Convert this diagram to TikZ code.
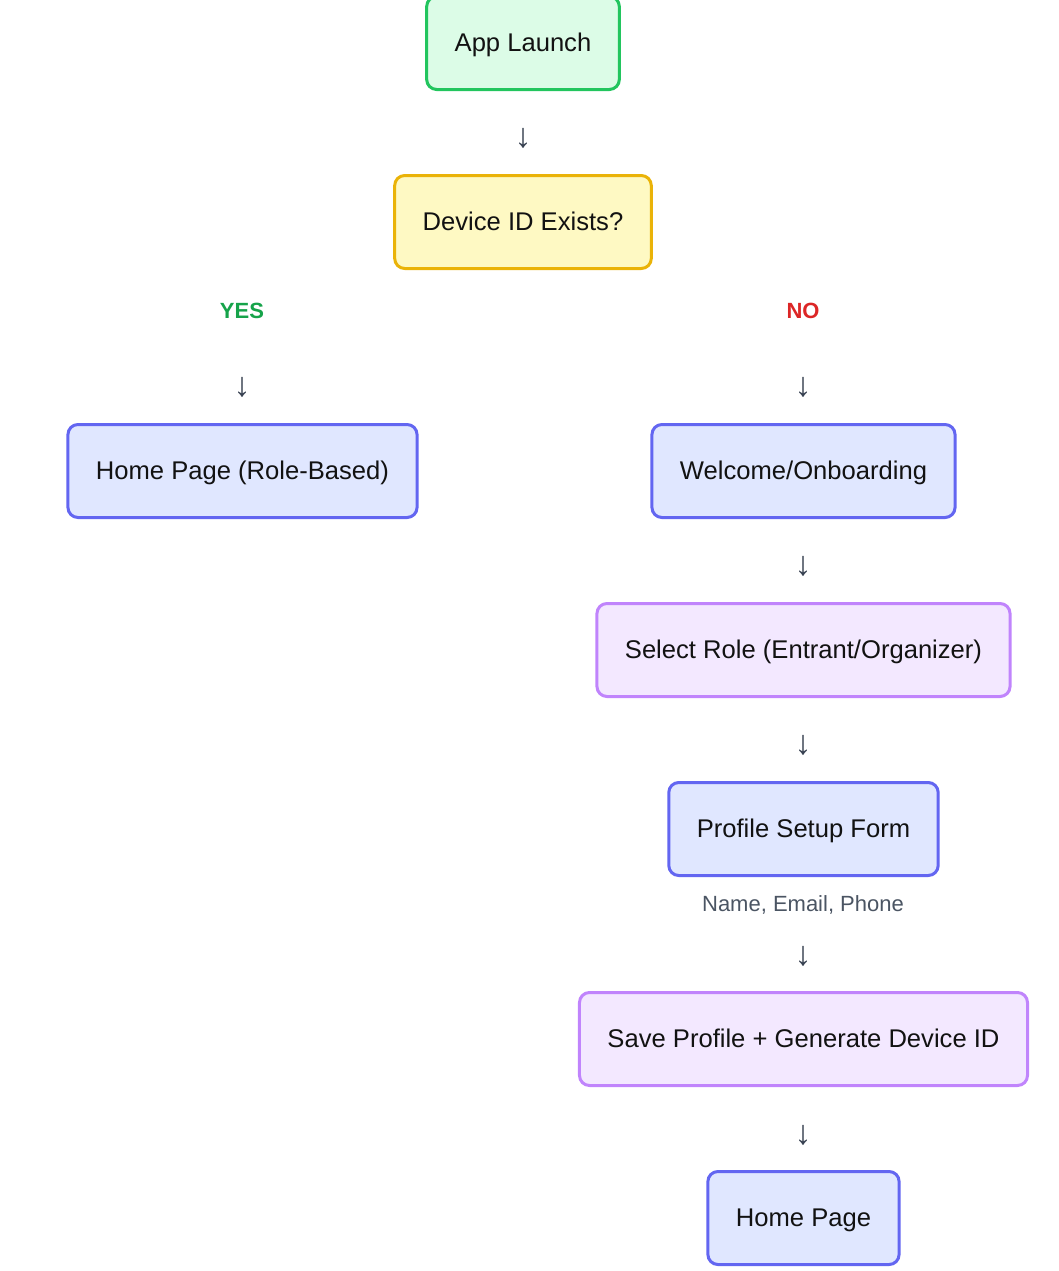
\documentclass[tikz,border=0pt]{standalone}
\usepackage{fontspec}
\setmainfont{Liberation Sans}
\usetikzlibrary{positioning}

\definecolor{launchline}{HTML}{22C55E}
\definecolor{launchfill}{HTML}{DCFCE7}
\definecolor{askline}{HTML}{EAB308}
\definecolor{askfill}{HTML}{FEF9C3}
\definecolor{pageline}{HTML}{6366F1}
\definecolor{pagefill}{HTML}{E0E7FF}
\definecolor{roleline}{HTML}{C084FC}
\definecolor{rolefill}{HTML}{F3E8FF}
\definecolor{arrowgrey}{HTML}{374151}
\definecolor{notegrey}{HTML}{4B5563}
\definecolor{yesgreen}{HTML}{16A34A}
\definecolor{nored}{HTML}{DC2626}

\tikzset{
    flowbox/.style={rounded corners=5pt, line width=1.5pt, minimum height=46.5pt,
        inner xsep=14pt, text height=9.8pt, text depth=1.6pt,
        text=black!93, font=\fontsize{12.8}{15}\selectfont},
    launchbox/.style={flowbox, draw=launchline, fill=launchfill},
    askbox/.style={flowbox, draw=askline, fill=askfill},
    pagebox/.style={flowbox, draw=pageline, fill=pagefill},
    rolebox/.style={flowbox, draw=roleline, fill=rolefill},
    downarrow/.style={text=arrowgrey, font=\fontsize{17}{19}\selectfont, inner sep=0pt},
    branchlabel/.style={font=\fontsize{11}{13}\selectfont\bfseries, inner sep=0pt},
    notetext/.style={text=notegrey, font=\fontsize{11}{13}\selectfont, inner sep=0pt}
}

\begin{document}
\begin{tikzpicture}[x=0.5pt, y=-0.5pt]
    \useasboundingbox (0,0) rectangle (1059,1271);

    % top of the flow
    \node[launchbox] (launch) at (523,43) {App Launch};
    \node[downarrow] (arrA) at (523,138) {↓};
    \node[askbox] (devid) at (523,222) {Device ID Exists?};

    % yes branch
    \node[branchlabel, text=yesgreen] (yes) at (242,311) {YES};
    \node[downarrow] (arrYes) at (242,387) {↓};
    \node[pagebox] (homerole) at (242.5,471) {Home Page (Role-Based)};

    % no branch
    \node[branchlabel, text=nored] (no) at (803,311) {NO};
    \node[downarrow] (arrNo) at (803,387) {↓};
    \node[pagebox] (welcome) at (803.5,471) {Welcome/Onboarding};
    \node[downarrow] (arrB) at (803,566) {↓};
    \node[rolebox] (role) at (803.5,650) {Select Role (Entrant/Organizer)};
    \node[downarrow] (arrC) at (803,745) {↓};
    \node[pagebox] (profile) at (803.5,829) {Profile Setup Form};
    \node[notetext] (fields) at (803,905) {Name, Email, Phone};
    \node[downarrow] (arrD) at (803,956) {↓};
    \node[rolebox] (save) at (803.5,1039) {Save Profile + Generate Device ID};
    \node[downarrow] (arrE) at (803,1135) {↓};
    \node[pagebox] (home) at (803.5,1218) {Home Page};
\end{tikzpicture}
\end{document}
